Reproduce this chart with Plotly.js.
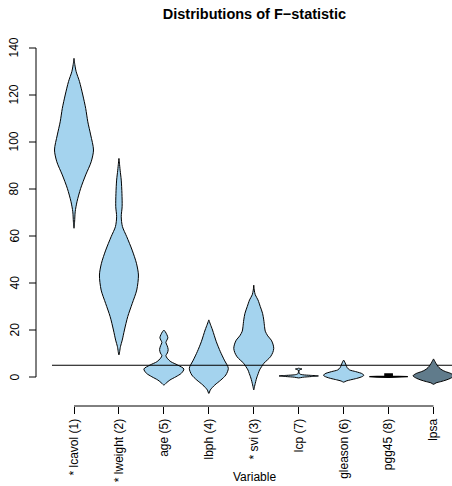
<!DOCTYPE html>
<html>
<head>
<meta charset="utf-8">
<script src="https://cdn.plot.ly/plotly-3.0.1.min.js"></script>
<style>html,body{margin:0;padding:0;background:#fff;}#chart{width:452px;height:486px;}</style>
</head>
<body>
<div id="chart"></div>
<script>
// ---- Data ----
const categories = ["* lcavol (1)", "* lweight (2)", "age (5)", "lbph (4)", "* svi (3)", "lcp (7)", "gleason (6)", "pgg45 (8)", "lpsa"];
const yTicks = [0, 20, 40, 60, 80, 100, 120, 140];
const threshold = 5;

// density profiles: F-statistic value (y) and relative density (d)
const lcavolY = [63.3, 66, 70.3, 74.6, 80.3, 86, 91.6, 96.6, 103, 108.6, 114.3, 120, 125.7, 129.9, 133, 135.6];
const lcavolD = [0, 0.6, 1.2, 3, 6.7, 11.7, 17.2, 19.5, 16.7, 13.8, 11.7, 8.8, 5.5, 2.2, 0.8, 0];
const lweightY = [9.4, 12.9, 15.7, 20, 25.7, 31.3, 37, 43.4, 48.4, 54, 59.7, 64, 68.2, 72.5, 78.1, 83.8, 88, 91, 93];
const lweightD = [0, 1.5, 3.3, 5.5, 8.8, 13.3, 17.8, 19.5, 17.5, 13.2, 7.8, 3.5, 2.3, 3.2, 3, 2.3, 1.2, 0.5, 0];
const ageY = [-3.4, -2.5, -1.3, 0.1, 1.6, 3.4, 5.1, 6.5, 8, 9.1, 10.2, 11.7, 13.3, 14.7, 15.7, 16.7, 18, 19.2, 20];
const ageD = [0, 2.5, 6, 12, 17.5, 20, 13.8, 7, 3.3, 2, 3.5, 4.3, 3.3, 2, 3, 4, 3, 1.5, 0];
const lbphY = [-7, -5.5, -3.4, -1.3, 0.85, 3.7, 7.2, 10.8, 15, 20, 22.5, 24.3];
const lbphD = [0, 1.5, 6, 12, 17, 19.5, 15.5, 11.5, 7.5, 3.7, 1.5, 0];
const sviY = [-5.5, -4, -2.7, -1, 0.1, 1.5, 3, 4.5, 5.8, 7.2, 8.6, 10.4, 12.2, 14, 15.7, 17.5, 19.5, 21.4, 24.3, 27.1, 30, 32.8, 35, 37, 39.1];
const sviD = [0, 0.8, 1.5, 2.5, 3.3, 4.5, 5.8, 8, 10, 13.5, 16.7, 19, 20, 19.2, 17.5, 14, 11.5, 10.8, 10, 8.8, 6.5, 4.2, 1.5, 0.5, 0];
const lcpY = [-0.4, -0.1, 0.2, 0.45, 0.7, 0.95, 1.3, 1.8, 2.9, 3.2, 3.4, 3.6, 3.75];
const lcpD = [0, 4, 13, 19.7, 12, 4, 1, 0.4, 0.4, 2, 3.3, 1.5, 0];
const gleasonY = [-2.2, -1.7, -1.2, -0.6, 0, 0.6, 1.3, 2.3, 3, 4, 5, 6, 6.8, 7.2];
const gleasonD = [0, 2.5, 7, 13, 17.5, 20, 19, 12, 6, 3.5, 2.5, 1.5, 0.6, 0];
const pgg45Y = [-0.2, 0.0, 0.15, 0.3, 0.4, 1.3, 1.4];
const pgg45D = [0, 12, 19.3, 10, 3.7, 3.7, 0];
const lpsaY = [-3.1, -2.5, -2, -1.3, -0.55, 0.5, 1.5, 2.3, 3, 4, 5.1, 6.3, 7.7];
const lpsaD = [0, 2.5, 7, 12.5, 17, 20.5, 17.3, 12, 8.5, 5.5, 3.5, 1.8, 0];

const profiles = [
  [lcavolY, lcavolD], [lweightY, lweightD], [ageY, ageD], [lbphY, lbphD], [sviY, sviD],
  [lcpY, lcpD], [gleasonY, gleasonD], [pgg45Y, pgg45D], [lpsaY, lpsaD]
];

// ---- Styling ----
const FONT = "Liberation Sans, Arimo, Arial, Helvetica, sans-serif";
const fillLight = "#A4D3EE";   // lightskyblue2
const fillDark = "#607B8B";    // lightskyblue4
const widthScale = 1 / 44.94;  // relative density -> x-axis units
const xRange = [0.5105, 9.411];
const plotW = 400;             // plot area width in px (for placing the detached y axis)
const axisOff = -16 / plotW;   // y axis line sits 16px left of plot area
const tickOff = -23 / plotW;   // tick end
const labelOff = -37.5 / plotW; // tick label centre

const traces = profiles.map((p, i) => {
  const pos = i + 1;
  const ys = p[0], ds = p[1];
  const x = [], y = [];
  for (let k = 0; k < ys.length; k++) { x.push(pos + ds[k] * widthScale); y.push(ys[k]); }
  for (let k = ys.length - 1; k >= 0; k--) { x.push(pos - ds[k] * widthScale); y.push(ys[k]); }
  const flat = (i === 7);
  return {
    type: "scatter", mode: "lines", x: x, y: y,
    fill: "toself",
    fillcolor: flat ? "#000" : (i === categories.length - 1 ? fillDark : fillLight),
    line: { color: "#000", width: flat ? 1.3 : 1, shape: flat ? "linear" : "spline", smoothing: 0.8 },
    hoverinfo: "skip", showlegend: false
  };
});

// horizontal reference line at the threshold, drawn before the last (response) violin
const refLine = {
  type: "scatter", mode: "lines", x: xRange, y: [threshold, threshold],
  line: { color: "#000", width: 1 }, hoverinfo: "skip", showlegend: false
};
const data = traces.slice(0, 8).concat([refLine, traces[8]]);

const tickPos = categories.map((c, i) => i + 1);

// detached (R-style) y axis: line, ticks and labels
const shapes = [
  { type: "line", xref: "paper", yref: "y", x0: axisOff, x1: axisOff, y0: yTicks[0], y1: yTicks[yTicks.length - 1],
    line: { color: "#000", width: 1 } },
  { type: "line", xref: "x", yref: "paper", x0: tickPos[0], x1: tickPos[tickPos.length - 1], y0: 0, y1: 0,
    line: { color: "#000", width: 1 } }
];
yTicks.forEach(v => shapes.push({ type: "line", xref: "paper", yref: "y", x0: axisOff, x1: tickOff, y0: v, y1: v,
  line: { color: "#000", width: 1 } }));

const annotations = yTicks.map(v => ({
  text: String(v), xref: "paper", yref: "y", x: labelOff, y: v, textangle: -90,
  xanchor: "center", yanchor: "middle", showarrow: false,
  font: { family: FONT, size: 12, color: "#000" }
}));
annotations.push({ text: "Variable", xref: "paper", yref: "paper", x: 0.505, y: -71 / 361,
  xanchor: "center", yanchor: "middle", showarrow: false,
  font: { family: FONT, size: 12, color: "#000" } });

const layout = {
  width: 452, height: 486,
  margin: { l: 52, r: 0, t: 45, b: 80, pad: 0 },
  paper_bgcolor: "#fff", plot_bgcolor: "#fff",
  font: { family: FONT, size: 12, color: "#000" },
  showlegend: false,
  hovermode: false,
  title: {
    text: "Distributions of F\u2212statistic",
    font: { family: FONT, size: 14.5, color: "#000", weight: "bold" },
    xref: "paper", x: 0.506, xanchor: "center",
    yref: "container", y: 0.971, yanchor: "middle"
  },
  xaxis: {
    domain: [0, 1],
    range: xRange,
    showgrid: false, zeroline: false, showline: false,
    tickmode: "array", tickvals: tickPos, ticktext: categories,
    ticks: "outside", ticklen: 7, tickwidth: 1, tickcolor: "#000",
    tickangle: -90,
    tickfont: { family: FONT, size: 12, color: "#000" }
  },
  yaxis: {
    range: [-12.34, 141.28],
    showgrid: false, zeroline: false, showline: false,
    ticks: "", showticklabels: false
  },
  shapes: shapes,
  annotations: annotations
};

Plotly.newPlot("chart", data, layout, { staticPlot: true, displayModeBar: false });
</script>
</body>
</html>
